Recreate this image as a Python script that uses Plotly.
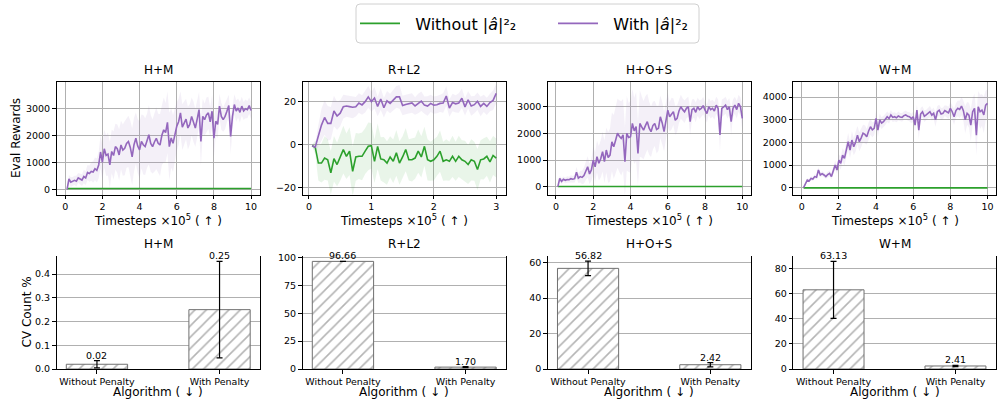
import numpy as np
import plotly.graph_objects as go

W, H = 997, 407
GREEN = "#2ca02c"
PURPLE = "#9467bd"
FONT = "DejaVu Sans"

# ---------------- evaluation curves (rewards vs timesteps x1e5) ----------------
hm_with_mean = [
    0, 380, 260, 290, 330, 300, 420, 380, 340, 470,
    420, 620, 580, 660, 640, 760, 700, 900, 1380, 1000,
    1500, 1250, 1300, 900, 1400, 1250, 1580, 1500, 1270, 1640,
    1450, 1520, 1700, 1770, 1550, 1200, 1650, 1890, 1600, 1460,
    1770, 1650, 1580, 1800, 2020, 1700, 1580, 1750, 1890, 1700,
    1640, 2000, 2200, 2100, 2480, 1580, 1900, 1700, 2050, 2330,
    2500, 2830, 2300, 2450, 2600, 2270, 2400, 2700, 2500, 2270,
    2600, 2950, 1770, 2700, 2580, 2750, 2830, 2500, 2890, 1890,
    2520, 2400, 3080, 2700, 2580, 2700, 2890, 3100, 1960, 2700,
    3140, 2900, 3010, 2850, 3080, 2900, 2980, 2950, 3100, 2920,
]
hm_with_std = [
    0, 150, 180, 160, 170, 200, 180, 200, 220, 250,
    260, 280, 300, 350, 400, 420, 450, 500, 600, 650,
    700, 750, 800, 850, 800, 900, 850, 900, 950, 900,
    950, 1000, 900, 950, 1000, 1050, 1000, 950, 1000, 1050,
    1000, 1100, 1050, 1000, 1100, 1050, 1000, 1100, 1150, 1100,
    1150, 1100, 1200, 1100, 1150, 1250, 1100, 1050, 950, 900,
    850, 800, 850, 800, 750, 800, 750, 700, 750, 700,
    700, 650, 900, 650, 600, 650, 600, 550, 600, 700,
    550, 500, 450, 500, 450, 480, 420, 400, 650, 450,
    380, 400, 350, 380, 350, 330, 350, 320, 300, 320,
]
hm_without_mean = [28, 30, 29, 31, 30, 28, 30, 31, 29, 30, 30,
                   29, 31, 30, 28, 30, 29, 31, 30, 29, 30]

hos_with_mean = [
    0, 310, 200, 280, 240, 270, 260, 300, 280, 300,
    540, 320, 380, 350, 420, 600, 750, 480, 630, 1000,
    750, 1130, 880, 1050, 1320, 940, 1380, 1100, 1190, 1690,
    1500, 1750, 2010, 1900, 1820, 1950, 940, 2010, 1850, 1880,
    2380, 2100, 2260, 1250, 2380, 2250, 2130, 2300, 2450, 2200,
    2070, 2300, 2380, 2150, 2200, 2630, 2400, 2070, 2500, 2880,
    2630, 2750, 2820, 2500, 2570, 2850, 3010, 2900, 2820, 2950,
    3010, 2450, 2900, 2950, 2800, 3010, 2900, 2950, 3050, 2880,
    2750, 3010, 2900, 2950, 2850, 3070, 2950, 1950, 2950, 3000,
    3070, 2900, 3010, 2450, 2950, 3070, 2900, 3140, 3010, 2570,
]
hos_with_std = [
    0, 100, 120, 100, 110, 120, 110, 130, 120, 140,
    200, 180, 220, 250, 300, 350, 400, 380, 420, 500,
    550, 600, 650, 700, 750, 800, 850, 950, 1000, 1100,
    1200, 1250, 1300, 1350, 1400, 1350, 1300, 1400, 1300, 1350,
    1300, 1250, 1300, 1200, 1250, 1150, 1100, 1100, 1050, 1000,
    950, 900, 850, 900, 850, 800, 800, 750, 700, 650,
    550, 600, 500, 550, 500, 450, 450, 420, 420, 380,
    380, 500, 380, 350, 370, 340, 350, 320, 330, 320,
    340, 320, 330, 320, 330, 320, 330, 600, 330, 320,
    320, 330, 320, 500, 330, 320, 330, 320, 350, 450,
]
hos_without_mean = [5, 6, 4, 5, 6, 5, 4, 5, 6, 5, 5,
                    4, 5, 6, 5, 4, 5, 6, 5, 4, 5]

wm_with_mean = [
    0, 150, 340, 300, 410, 380, 490, 460, 780, 560,
    620, 560, 490, 580, 630, 490, 710, 1000, 780, 1220,
    1070, 1440, 1290, 1700, 2030, 1660, 2100, 1810, 2000, 2320,
    2030, 2200, 2400, 2350, 2250, 2500, 2690, 2550, 2620, 3060,
    2540, 2990, 2850, 2910, 3000, 3130, 3050, 3210, 3100, 3130,
    3080, 3160, 3120, 3100, 3180, 3210, 3150, 3130, 3050, 3130,
    2760, 3420, 2540, 3250, 3350, 3150, 3210, 3300, 3350, 3200,
    3280, 2990, 3350, 3420, 3250, 3280, 3400, 3350, 3300, 3500,
    3350, 3130, 3400, 3500, 3450, 3600, 3400, 2990, 3280, 3200,
    2760, 3350, 3500, 2320, 3570, 3350, 3420, 3210, 3640, 3720,
]
wm_with_std = [
    0, 60, 80, 70, 90, 80, 100, 90, 120, 100,
    100, 110, 100, 120, 130, 120, 150, 200, 180, 250,
    280, 300, 320, 350, 380, 350, 400, 380, 420, 400,
    420, 400, 380, 400, 350, 380, 350, 330, 300, 320,
    300, 280, 260, 250, 240, 230, 220, 210, 200, 200,
    190, 200, 180, 190, 180, 200, 190, 200, 210, 220,
    300, 250, 400, 260, 240, 250, 230, 240, 250, 240,
    260, 300, 250, 240, 260, 250, 240, 260, 270, 280,
    300, 350, 320, 350, 380, 400, 450, 600, 500, 550,
    700, 600, 650, 900, 700, 750, 700, 800, 650, 600,
]
wm_without_mean = [-8, -10, -9, -11, -10, -9, -10, -11, -9, -10, -10,
                   -9, -11, -10, -9, -10, -11, -9, -10, -10, -9]

rl_with_mean = [
    -0.5, -1.2, 4.0, 9.0, 12.5, 9.8, 9.8, 15.5, 13.2, 14.5,
    17.5, 17.8, 17.5, 17.2, 17.4, 19.2, 18.3, 19.8, 22.0, 19.8,
    21.5, 17.6, 21.0, 17.0, 20.2, 19.0, 20.5, 22.0, 22.0, 18.0,
    18.5, 19.0, 19.2, 17.8, 19.0, 20.0, 18.2, 17.8, 19.0, 18.2,
    18.4, 19.0, 19.2, 22.4, 16.8, 19.4, 18.8, 19.2, 21.4, 17.4,
    20.6, 17.8, 18.4, 20.0, 17.6, 19.0, 17.6, 19.4, 20.4, 23.6,
]
rl_with_std = [
    0.5, 1.5, 5.0, 7.5, 8.0, 8.0, 7.5, 7.0, 6.5, 6.0,
    5.5, 5.0, 5.0, 5.0, 4.5, 4.5, 4.5, 5.0, 5.0, 4.5,
    5.0, 4.5, 5.0, 4.5, 4.5, 4.5, 5.0, 5.0, 5.5, 4.5,
    4.5, 4.5, 4.5, 4.0, 4.5, 4.5, 4.0, 4.5, 4.0, 4.0,
    4.0, 4.0, 4.5, 4.5, 4.0, 4.0, 4.0, 4.5, 4.5, 4.0,
    4.0, 4.5, 4.0, 4.0, 4.5, 4.0, 4.0, 4.0, 4.5, 4.5,
]
rl_without_mean = [
    -0.5, -1.2, -8.5, -8.5, -6.2, -7.0, -13.0, -6.5, -9.2, -5.7,
    -2.3, -5.4, -3.0, -12.3, -5.7, -5.4, -5.4, -3.0, -0.8, -0.5,
    -7.7, -0.8, -6.6, -7.0, -8.5, -5.7, -7.7, -3.8, -8.5, -5.7,
    -2.3, -7.0, -7.0, -6.2, -3.0, -5.7, -0.8, -7.0, -7.7, -7.0,
    -5.4, -3.0, -7.7, -7.0, -7.7, -5.4, -7.7, -5.4, -7.0, -7.7,
    -9.2, -7.0, -7.7, -11.5, -7.0, -6.6, -5.4, -8.0, -5.0, -6.2,
]
rl_without_std = [
    0.5, 3.0, 8.0, 9.0, 10.0, 9.5, 10.0, 10.5, 10.0, 11.0,
    11.0, 10.5, 11.0, 11.5, 11.0, 10.5, 11.0, 10.5, 11.0, 10.5,
    10.0, 10.5, 10.0, 10.5, 10.0, 9.5, 10.0, 10.5, 10.0, 9.5,
    10.0, 9.5, 10.0, 9.5, 10.0, 9.5, 9.0, 9.5, 9.0, 9.5,
    9.0, 9.5, 9.0, 9.5, 9.0, 9.5, 9.0, 9.5, 9.0, 9.5,
    9.0, 9.5, 9.0, 9.5, 9.0, 9.5, 9.0, 9.5, 9.0, 9.0,
]

# ---------------- constraint-violation bars ----------------
algorithms = ["Without Penalty", "With Penalty"]
cv_hm = [0.02, 0.25]
cv_hm_err = [0.015, 0.203]
cv_rl = [96.66, 1.70]
cv_rl_err = [0.05, 0.5]
cv_hos = [56.82, 2.42]
cv_hos_err = [4.1, 1.2]
cv_wm = [63.13, 2.41]
cv_wm_err = [22.7, 0.5]

env_names = ["H+M", "R+L2", "H+O+S", "W+M"]
series_names = ["Without |<i>â</i>|²₂", "With |<i>â</i>|²₂"]


def px_x(p):
    return p / W


def px_y(p):
    return 1 - p / H


# axes boxes in figure pixels
col_px = [(56.5, 260.0), (302.5, 506.0), (547.7, 750.7), (793.3, 995.7)]
top_px = (81.7, 194.5)
bot_px = (256.0, 369.0)

curve_sets = [
    (hm_with_mean, hm_with_std, hm_without_mean, None, 10.0),
    (rl_with_mean, rl_with_std, rl_without_mean, rl_without_std, 3.0),
    (hos_with_mean, hos_with_std, hos_without_mean, None, 10.0),
    (wm_with_mean, wm_with_std, wm_without_mean, None, 10.0),
]
top_xrange = [[-0.47, 10.48], [-0.104, 3.157], [-0.445, 10.45], [-0.453, 10.44]]
top_yrange = [[-195, 3985], [-23.0, 29.0], [-294, 3952], [-300, 4675]]
top_xticks = [[0, 2, 4, 6, 8, 10], [0, 1, 2, 3], [0, 2, 4, 6, 8, 10], [0, 2, 4, 6, 8, 10]]
top_yticks = [[0, 1000, 2000, 3000], [-20, 0, 20], [0, 1000, 2000, 3000],
              [0, 1000, 2000, 3000, 4000]]

bar_sets = [
    (cv_hm, cv_hm_err),
    (cv_rl, cv_rl_err),
    (cv_hos, cv_hos_err),
    (cv_wm, cv_wm_err),
]
bot_yrange = [[0, 0.476], [0, 101.5], [0, 63.8], [0, 90.1]]
bot_yticks = [[0, 0.1, 0.2, 0.3, 0.4], [0, 25, 50, 75, 100], [0, 20, 40, 60],
              [0, 20, 40, 60, 80]]

fig = go.Figure()
tick_font = dict(family=FONT, size=9.5, color="black")
label_font = dict(family=FONT, size=12, color="black")
annotations = []
layout = {}

# a little breathing room between each legend line sample and its label
LEGEND_PAD = "\u00a0\u00a0"


def band(fig, x, mean, std, color, xa, ya):
    m = np.asarray(mean, float)
    s = np.asarray(std, float)
    fig.add_trace(go.Scatter(
        x=np.concatenate([x, x[::-1]]),
        y=np.concatenate([m + s, (m - s)[::-1]]),
        fill="toself", fillcolor=color, line=dict(width=0),
        mode="lines", hoverinfo="skip", showlegend=False,
        xaxis=xa, yaxis=ya))


def paper_text(text, xp, yp, font, angle=0):
    return dict(text=text, x=px_x(xp), y=px_y(yp), xref="paper", yref="paper",
                showarrow=False, xanchor="center", yanchor="middle",
                textangle=angle, font=font)


for i in range(4):
    n = i + 1
    xa, ya = f"x{n}", f"y{n}"
    w_mean, w_std, wo_mean, wo_std, tmax = curve_sets[i]
    t_w = np.linspace(tmax / len(w_mean), tmax, len(w_mean))
    t_wo = np.linspace(tmax / len(w_mean), tmax, len(wo_mean))

    if wo_std is not None:
        band(fig, t_wo, wo_mean, wo_std, "rgba(44,160,44,0.10)", xa, ya)
    band(fig, t_w, w_mean, w_std, "rgba(148,103,189,0.10)", xa, ya)
    fig.add_trace(go.Scatter(
        x=t_wo, y=wo_mean, mode="lines", line=dict(color=GREEN, width=1.6),
        name=LEGEND_PAD + series_names[0], legend="legend", showlegend=(i == 0),
        xaxis=xa, yaxis=ya))
    fig.add_trace(go.Scatter(
        x=t_w, y=w_mean, mode="lines", line=dict(color=PURPLE, width=1.6),
        name=LEGEND_PAD + series_names[1], legend="legend2", showlegend=(i == 0),
        xaxis=xa, yaxis=ya))

    x0, x1 = col_px[i]
    key = "" if n == 1 else str(n)
    layout[f"xaxis{key}"] = dict(
        domain=[px_x(x0), px_x(x1)], anchor=ya, range=top_xrange[i],
        tickvals=top_xticks[i], ticks="outside", ticklen=3.5, tickwidth=1,
        tickcolor="black", showline=True, linecolor="black", linewidth=1,
        mirror=True, showgrid=True, gridcolor="#b0b0b0", gridwidth=1,
        zeroline=False, tickfont=tick_font, automargin=False)
    layout[f"yaxis{key}"] = dict(
        domain=[px_y(top_px[1]), px_y(top_px[0])], anchor=xa, range=top_yrange[i],
        tickvals=top_yticks[i],
        ticktext=[f"{v:d}".replace("-", "−") for v in top_yticks[i]],
        ticks="outside", ticklen=3.5, tickwidth=1,
        tickcolor="black", showline=True, linecolor="black", linewidth=1,
        mirror=True, showgrid=True, gridcolor="#b0b0b0", gridwidth=1,
        zeroline=False, tickfont=tick_font, automargin=False)

    xc = (x0 + x1) / 2
    annotations.append(paper_text(env_names[i], xc, 70, label_font))
    annotations.append(paper_text("Timesteps ×10<sup>5</sup> ( ↑ )", xc, 220, label_font))

for i in range(4):
    n = i + 5
    xa, ya = f"x{n}", f"y{n}"
    vals, errs = bar_sets[i]
    fig.add_trace(go.Bar(
        x=algorithms, y=vals, width=0.5,
        marker=dict(color="white", line=dict(color="#707070", width=1),
                    pattern=dict(shape="/", fgcolor="#6a6a6a", bgcolor="white",
                                 size=8, solidity=0.2)),
        error_y=dict(type="data", array=errs, color="black", thickness=1.2, width=3),
        showlegend=False, xaxis=xa, yaxis=ya))
    for k, (v, e) in enumerate(zip(vals, errs)):
        annotations.append(dict(text=f"{v:.2f}", x=algorithms[k], y=v + e, xref=xa, yref=ya,
                                showarrow=False, xanchor="center", yanchor="bottom", yshift=-2,
                                font=dict(family=FONT, size=9.5, color="black")))

    x0, x1 = col_px[i]
    layout[f"xaxis{n}"] = dict(
        domain=[px_x(x0), px_x(x1)], anchor=ya, range=[-0.33, 1.33],
        type="category", ticks="outside", ticklen=3.5, tickwidth=1, tickcolor="black",
        showline=True, linecolor="black", linewidth=1, mirror=False,
        showgrid=False, zeroline=False, tickfont=tick_font, automargin=False)
    yfmt = ".1f" if i == 0 else "d"
    layout[f"yaxis{n}"] = dict(
        domain=[px_y(bot_px[1]), px_y(bot_px[0])], anchor=xa, range=bot_yrange[i],
        tickvals=bot_yticks[i], tickformat=yfmt, ticks="outside", ticklen=3.5,
        tickwidth=1, tickcolor="black", showline=True, linecolor="black", linewidth=1,
        mirror=True, showgrid=True, gridcolor="#b0b0b0", gridwidth=1,
        zeroline=False, tickfont=tick_font, automargin=False)

    xc = (x0 + x1) / 2
    annotations.append(paper_text(env_names[i], xc, 244, label_font))
    annotations.append(paper_text("Algorithm ( ↓ )", xc, 392, label_font))

annotations.append(paper_text("Eval Rewards", 16, 138, label_font, angle=-90))
annotations.append(paper_text("CV Count %", 26, 312.5, label_font, angle=-90))

# rounded frame shared by the two legend entries
bx0, by0, bx1, by1, r = px_x(356), px_y(4), px_x(699), px_y(43), 4
rx, ry = r / W, r / H
frame_path = (
    f"M {bx0 + rx},{by0} L {bx1 - rx},{by0} Q {bx1},{by0} {bx1},{by0 - ry} "
    f"L {bx1},{by1 + ry} Q {bx1},{by1} {bx1 - rx},{by1} "
    f"L {bx0 + rx},{by1} Q {bx0},{by1} {bx0},{by1 + ry} "
    f"L {bx0},{by0 - ry} Q {bx0},{by0} {bx0 + rx},{by0} Z"
)

legend_common = dict(orientation="h", xref="container", yref="container",
                     xanchor="left", yanchor="middle", bgcolor="rgba(0,0,0,0)",
                     borderwidth=0, itemwidth=40,
                     font=dict(family=FONT, size=16, color="black"))

fig.update_layout(
    width=W, height=H,
    margin=dict(l=0, r=0, t=0, b=0, autoexpand=False),
    paper_bgcolor="white", plot_bgcolor="white",
    font=dict(family=FONT, color="black"),
    annotations=annotations,
    shapes=[dict(type="path", path=frame_path, xref="paper", yref="paper",
                 line=dict(color="#d0d0d0", width=1), fillcolor="white", layer="below")],
    barmode="group",
    legend=dict(x=px_x(355), y=px_y(23.5), **legend_common),
    legend2=dict(x=px_x(553), y=px_y(23.5), **legend_common),
    **layout,
)

fig.write_html("out.html")
